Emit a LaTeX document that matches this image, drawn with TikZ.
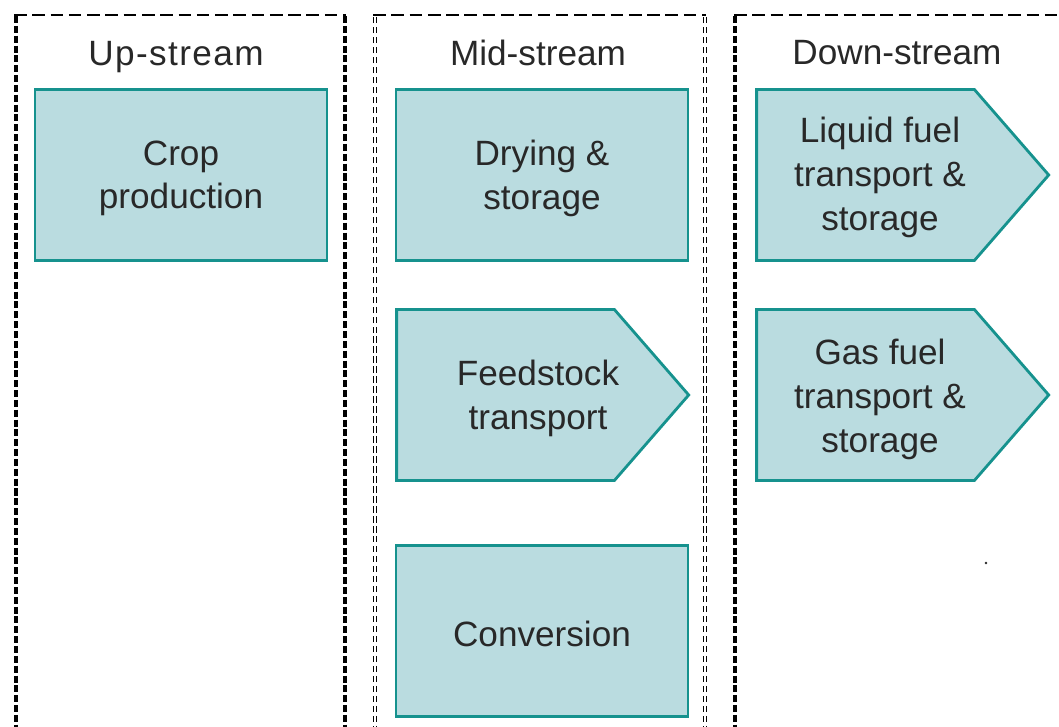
\documentclass[tikz,border=0pt]{standalone}
\usepackage{fontspec}
\setmainfont{Liberation Sans}
\usepackage{tikz}
\usetikzlibrary{shapes,shapes.symbols}
\definecolor{stagefill}{RGB}{186,220,224}
\definecolor{stageline}{RGB}{22,146,142}
\definecolor{stageink}{RGB}{40,40,40}
\tikzstyle{stagebox}=[rectangle, draw=stageline, fill=stagefill, line width=2pt, minimum width=7.3cm, minimum height=4.275cm, inner sep=0pt]
\tikzstyle{stagearrow}=[signal, signal to=east, signal pointer angle=98, draw=stageline, fill=stagefill, line width=2pt, minimum width=7.3cm, minimum height=4.275cm, inner sep=0pt]
\tikzstyle{stagetext}=[align=center, text=stageink, yshift=-2.4pt, font=\fontsize{25}{31}\selectfont]
\tikzstyle{colhead}=[text=stageink, font=\fontsize{25}{31}\selectfont]
\tikzstyle{coltop}=[line width=1.2pt, dash pattern=on 9pt off 4pt]
\tikzstyle{colside}=[line width=2.2pt, dash pattern=on 5pt off 2pt]
\tikzstyle{colhollow}=[line width=1.1pt, double, double distance=1.1pt, dash pattern=on 4.5pt off 2.6pt]
\newcommand{\stagebox}[3]{
	\node[stagebox] (#1) at (#2) {};
	\node[stagetext] (#1-t) at (#2) {#3};}
\newcommand{\stagearrow}[4]{
	\node[stagearrow] (#1) at (#2) {};
	\node[stagetext] (#1-t) at (#3) {#4};}

\begin{document}
\begin{tikzpicture}[x=0.025cm,y=-0.025cm]
	\useasboundingbox (0,0) rectangle (1059,727);

	% columns
	\draw[coltop] (14,15) -- (346,15);
	\draw[colside] (16,16) -- (16,727);
	\draw[colside] (345,16) -- (345,727);
	\draw[coltop] (373,15) -- (706,15);
	\draw[colhollow] (375,17) -- (375,727);
	\draw[colhollow] (705,17) -- (705,727);
	\draw[coltop] (734,15) -- (1059,15);
	\draw[colside] (735,16) -- (735,727);

	\node[colhead] (up) at (176,57) {\addfontfeature{LetterSpace=4}Up-stream};
	\node[colhead] (mid) at (538,53) {Mid-stream};
	\node[colhead] (down) at (897,53) {Down-stream};

	% up-stream
	\stagebox{crop}{181,175}{Crop\\production}

	% mid-stream
	\stagebox{dry}{542,175}{Drying \&\\storage}
	\stagearrow{feed}{505.5,395}{538,395}{Feedstock\\transport}
	\stagebox{conv}{542,631}{Conversion}

	% down-stream
	\stagearrow{liquid}{865.5,175}{880,174}{Liquid fuel\\transport \&\\storage}
	\stagearrow{gas}{865.5,395}{880,396}{Gas fuel\\transport \&\\storage}

	\fill[stageink] (986,563) circle (1pt);
\end{tikzpicture}
\end{document}
